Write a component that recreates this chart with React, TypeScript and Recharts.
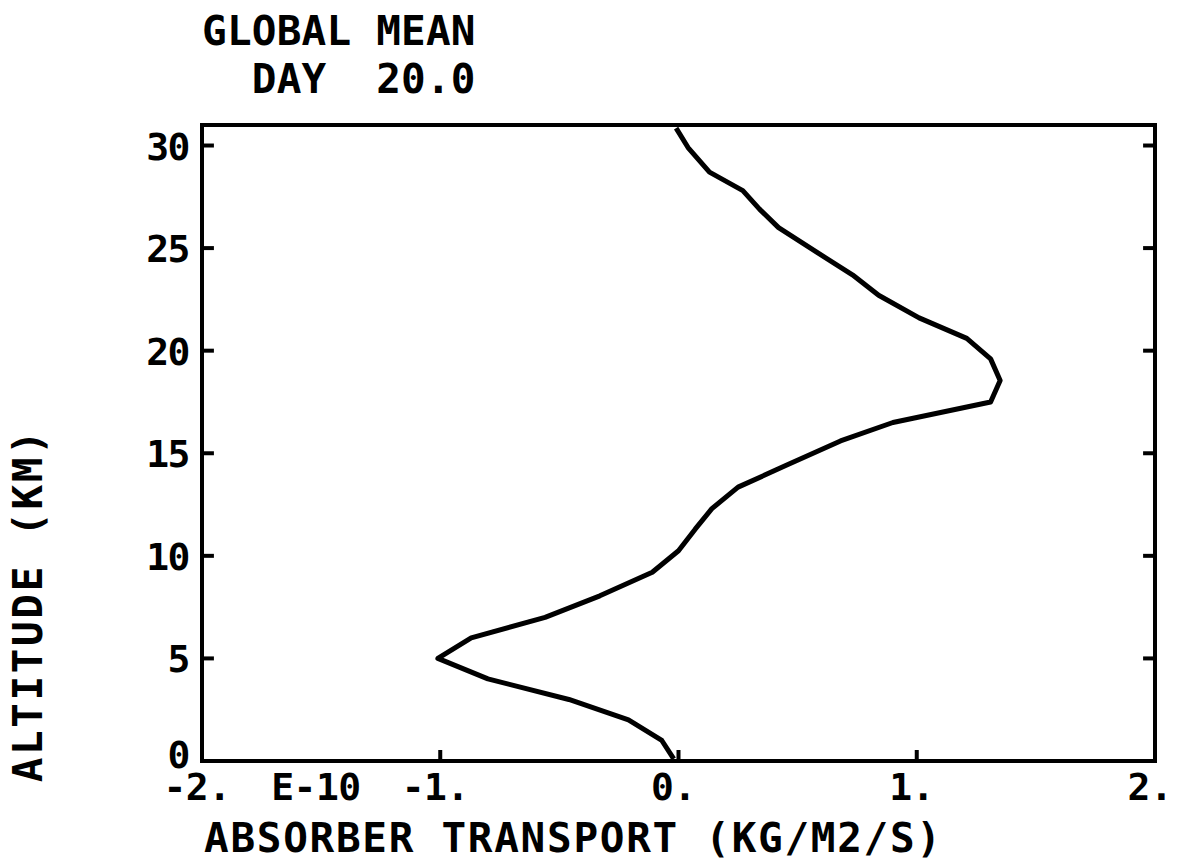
import { ScatterChart, Scatter, XAxis, YAxis, ReferenceLine } from 'recharts';

// global-mean absorber transport profile, day 20.0
const altitudeKm = [
  0.1, 1.0, 2.0, 3.0, 4.0, 5.0, 6.0, 7.0, 8.05, 9.2, 10.25, 11.3, 12.3, 13.35, 14.4, 15.6,
  16.5, 17.5, 18.55, 19.6, 20.6, 21.6, 22.7, 23.7, 24.8, 26.0, 26.9, 27.8, 28.7, 29.9, 30.85,
];
// units of 1E-10 kg/m2/s
const transport = [
  -0.02, -0.07, -0.21, -0.46, -0.8, -1.01, -0.87, -0.56, -0.33, -0.11, 0.0, 0.07, 0.14, 0.25, 0.45, 0.68,
  0.9, 1.31, 1.35, 1.31, 1.21, 1.01, 0.84, 0.73, 0.58, 0.42, 0.34, 0.27, 0.13, 0.04, -0.01,
];

const xTicks = [-2, -1, 0, 1, 2];
const xTickText = ['-2.', '-1.', '0.', '1.', '2.'];
const innerXTicks = [-1, 0, 1];
const yTicks = [0, 5, 10, 15, 20, 25, 30];
const innerYTicks = [5, 10, 15, 20, 25, 30];

const X_DOMAIN = [-2, 2];
const Y_DOMAIN = [0, 31];

const profile = altitudeKm.map((alt, i) => ({ alt, flux: transport[i] }));

const FONT = '"DejaVu Sans Mono", "Liberation Mono", monospace';
const INK = '#000';
const Y_TICK_LEN = 0.05; // in axis units
const MARK = 11; // px length of the top/bottom tick marks

// tickSize/tickMargin are 0, so x/y passed in sit right on the axis line
const BottomTick = (props: any) => {
  const { x, y, payload } = props;
  const i = xTicks.indexOf(payload.value);
  return (
    <g>
      {innerXTicks.includes(payload.value) && <rect x={x - 2} y={y - MARK} width={4} height={MARK} fill={INK} />}
      <text x={x - 5} y={y + 39} textAnchor="middle" fontFamily={FONT} fontWeight="bold" fontSize={38} letterSpacing={-0.5} fill={INK}>
        {xTickText[i]}
      </text>
      {payload.value === -2 && (
        <text x={x + 114} y={y + 39} textAnchor="middle" fontFamily={FONT} fontWeight="bold" fontSize={38} letterSpacing={-0.5} fill={INK}>
          E-10
        </text>
      )}
    </g>
  );
};

const TopTick = (props: any) => {
  const { x, y } = props;
  return <rect x={x - 2} y={y} width={4} height={MARK - 1} fill={INK} />;
};

const LeftLabel = (props: any) => {
  const { x, y, payload } = props;
  const lift = payload.value === 0 ? -7 : 0;
  return (
    <text x={x - 13} y={y + 14 + lift} textAnchor="end" fontFamily={FONT} fontWeight="bold" fontSize={38} letterSpacing={-1.5} fill={INK}>
      {payload.value}
    </text>
  );
};

const frame = { stroke: INK, strokeWidth: 4, strokeLinecap: 'square' as const };

export default function App() {
  return (
    <div style={{ position: 'absolute', left: 0, top: 0, width: 1179, height: 861, background: '#fff' }}>
      <ScatterChart width={1179} height={861} margin={{ top: 124, right: 24, bottom: 40, left: 142 }}>
        <XAxis
          type="number"
          dataKey="flux"
          domain={X_DOMAIN}
          ticks={xTicks}
          height={60}
          tickSize={0}
          tickMargin={0}
          axisLine={frame}
          tickLine={false}
          tick={<BottomTick />}
          interval={0}
        />
        <XAxis
          xAxisId="top"
          type="number"
          dataKey="flux"
          orientation="top"
          domain={X_DOMAIN}
          ticks={innerXTicks}
          height={1}
          tickSize={0}
          tickMargin={0}
          axisLine={frame}
          tickLine={false}
          tick={<TopTick />}
          interval={0}
        />
        <YAxis
          type="number"
          dataKey="alt"
          domain={Y_DOMAIN}
          ticks={yTicks}
          width={60}
          tickSize={0}
          tickMargin={0}
          axisLine={frame}
          tickLine={false}
          tick={<LeftLabel />}
          interval={0}
        />

        {/* right side of the frame */}
        <ReferenceLine x={X_DOMAIN[1]} stroke={INK} strokeWidth={4} strokeLinecap="square" />

        {/* inward tick marks on the left and right edges */}
        {innerYTicks.map((v) => (
          <ReferenceLine key={`l${v}`} segment={[{ x: X_DOMAIN[0], y: v }, { x: X_DOMAIN[0] + Y_TICK_LEN, y: v }]} stroke={INK} strokeWidth={4} />
        ))}
        {innerYTicks.map((v) => (
          <ReferenceLine key={`r${v}`} segment={[{ x: X_DOMAIN[1], y: v }, { x: X_DOMAIN[1] - Y_TICK_LEN, y: v }]} stroke={INK} strokeWidth={4} />
        ))}

        <Scatter
          data={profile}
          line={{ stroke: INK, strokeWidth: 5, strokeLinejoin: 'round' }}
          lineType="joint"
          shape={() => <g />}
          isAnimationActive={false}
        />
        <g fontFamily={FONT} fontWeight="bold" fontSize={41} fill={INK}>
          <text x={202} y={45} style={{ whiteSpace: 'pre' }} letterSpacing={0.2}>
            GLOBAL MEAN
          </text>
          <text x={202} y={93} style={{ whiteSpace: 'pre' }} letterSpacing={0.2}>
            {'  DAY  20.0'}
          </text>
          <text x={204} y={852} style={{ whiteSpace: 'pre' }} letterSpacing={1.7}>
            ABSORBER TRANSPORT (KG/M2/S)
          </text>
          <text
            x={28}
            y={605}
            transform="rotate(-90 28 605)"
            textAnchor="middle"
            dominantBaseline="central"
            style={{ whiteSpace: 'pre' }}
            letterSpacing={2.6}
          >
            ALTITUDE (KM)
          </text>
        </g>
      </ScatterChart>
    </div>
  );
}
